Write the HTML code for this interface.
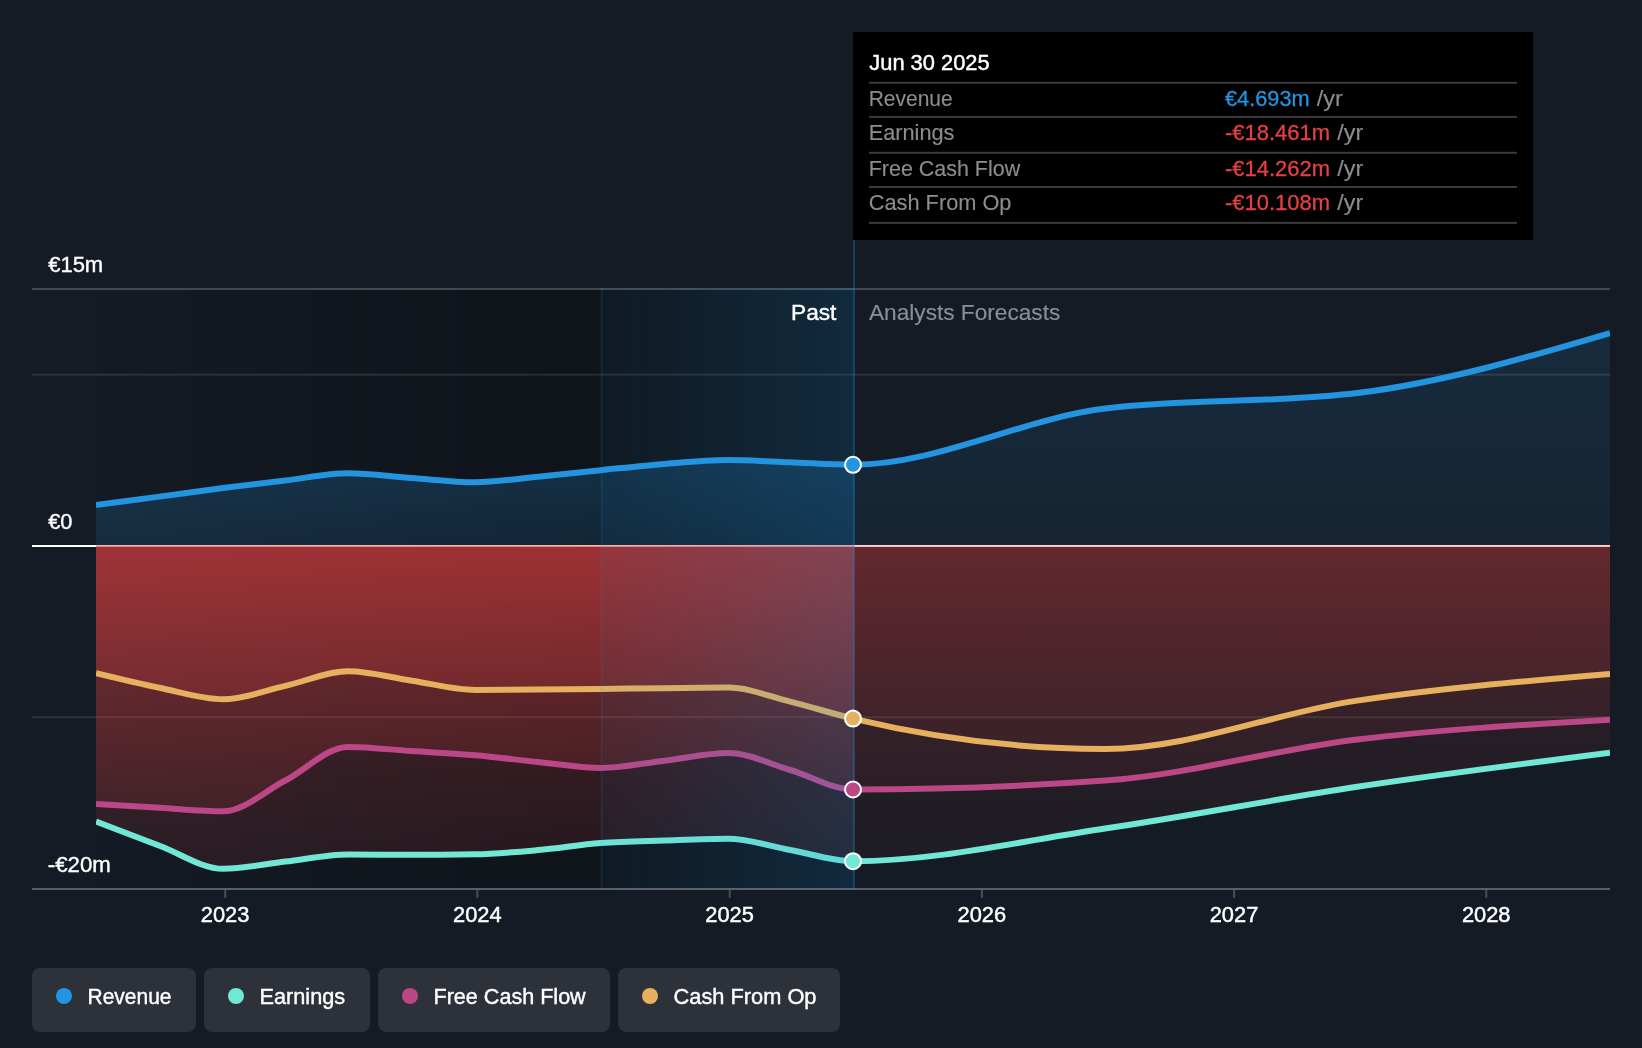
<!DOCTYPE html>
<html><head><meta charset="utf-8"><title>Earnings and Revenue Growth</title>
<style>
html,body{margin:0;padding:0;background:#151b24;}
body{width:1642px;height:1048px;overflow:hidden;position:relative;font-family:"Liberation Sans",sans-serif;}
svg text{font-family:"Liberation Sans",sans-serif;}
</style></head><body>
<svg width="1642" height="1048" viewBox="0 0 1642 1048" style="position:absolute;left:0;top:0;will-change:transform">
<defs>
<linearGradient id="gpast" x1="0" y1="0" x2="1" y2="0"><stop offset="0" stop-color="#000" stop-opacity="0"/><stop offset="1" stop-color="#000" stop-opacity="0.40"/></linearGradient>
<linearGradient id="ghl" x1="0" y1="0" x2="1" y2="0"><stop offset="0" stop-color="#2394df" stop-opacity="0.05"/><stop offset="1" stop-color="#2394df" stop-opacity="0.20"/></linearGradient>
<linearGradient id="gblueP" gradientUnits="userSpaceOnUse" x1="0" y1="460" x2="0" y2="546"><stop offset="0" stop-color="#2394df" stop-opacity="0.22"/><stop offset="1" stop-color="#2394df" stop-opacity="0.14"/></linearGradient>
<linearGradient id="gblueF" gradientUnits="userSpaceOnUse" x1="0" y1="333" x2="0" y2="546"><stop offset="0" stop-color="#2394df" stop-opacity="0.14"/><stop offset="1" stop-color="#2394df" stop-opacity="0.08"/></linearGradient>
<linearGradient id="grcP" gradientUnits="userSpaceOnUse" x1="0" y1="546" x2="0" y2="749"><stop offset="0" stop-color="#e64141" stop-opacity="0.30"/><stop offset="1" stop-color="#e64141" stop-opacity="0.10"/></linearGradient>
<linearGradient id="grcF" gradientUnits="userSpaceOnUse" x1="0" y1="546" x2="0" y2="749"><stop offset="0" stop-color="#e64141" stop-opacity="0.145"/><stop offset="1" stop-color="#e64141" stop-opacity="0.04"/></linearGradient>
<linearGradient id="grfP" gradientUnits="userSpaceOnUse" x1="0" y1="546" x2="0" y2="811"><stop offset="0" stop-color="#e64141" stop-opacity="0.30"/><stop offset="1" stop-color="#e64141" stop-opacity="0.10"/></linearGradient>
<linearGradient id="grfF" gradientUnits="userSpaceOnUse" x1="0" y1="546" x2="0" y2="811"><stop offset="0" stop-color="#e64141" stop-opacity="0.145"/><stop offset="1" stop-color="#e64141" stop-opacity="0.04"/></linearGradient>
<linearGradient id="greP" gradientUnits="userSpaceOnUse" x1="0" y1="546" x2="0" y2="869"><stop offset="0" stop-color="#e64141" stop-opacity="0.30"/><stop offset="1" stop-color="#e64141" stop-opacity="0.10"/></linearGradient>
<linearGradient id="greF" gradientUnits="userSpaceOnUse" x1="0" y1="546" x2="0" y2="869"><stop offset="0" stop-color="#e64141" stop-opacity="0.145"/><stop offset="1" stop-color="#e64141" stop-opacity="0.04"/></linearGradient>
<clipPath id="cpP"><rect x="96" y="0" width="758" height="1048"/></clipPath>
<clipPath id="cpF"><rect x="854" y="0" width="756" height="1048"/></clipPath>
<clipPath id="cpAll"><rect x="96" y="0" width="1514" height="1048"/></clipPath>
</defs>
<rect x="96" y="290" width="758" height="598" fill="url(#gpast)"/>
<rect x="32" y="288" width="1578" height="2" fill="#fff" fill-opacity="0.2"/>
<rect x="32" y="373.7" width="1578" height="2" fill="#fff" fill-opacity="0.1"/>
<rect x="32" y="716.2" width="1578" height="2" fill="#fff" fill-opacity="0.1"/>
<rect x="32" y="545" width="1578" height="2" fill="#fff"/>
<path d="M96.00,821.50C117.17,829.66 138.33,837.82 159.50,845.70C180.70,853.59 201.90,868.80 223.10,868.80C243.83,868.80 264.57,863.97 285.30,861.60C306.23,859.20 327.17,854.50 348.10,854.50C369.30,854.50 390.50,854.80 411.70,854.80C432.87,854.80 454.03,854.63 475.20,854.30C496.17,853.97 517.13,851.99 538.10,850.10C559.03,848.22 579.97,844.62 600.90,843.00C622.10,841.36 643.30,841.12 664.50,840.40C685.67,839.68 706.83,838.70 728.00,838.70C748.73,838.70 769.47,846.27 790.20,850.00C811.13,853.77 832.07,861.20 853.00,861.20C937.03,861.20 1021.07,840.90 1105.10,828.50C1189.13,816.10 1273.17,799.40 1357.20,786.80C1441.47,774.16 1525.73,763.48 1610.00,752.80L1610.00,545.50L96.00,545.50Z" fill="url(#greP)" clip-path="url(#cpP)"/>
<path d="M96.00,821.50C117.17,829.66 138.33,837.82 159.50,845.70C180.70,853.59 201.90,868.80 223.10,868.80C243.83,868.80 264.57,863.97 285.30,861.60C306.23,859.20 327.17,854.50 348.10,854.50C369.30,854.50 390.50,854.80 411.70,854.80C432.87,854.80 454.03,854.63 475.20,854.30C496.17,853.97 517.13,851.99 538.10,850.10C559.03,848.22 579.97,844.62 600.90,843.00C622.10,841.36 643.30,841.12 664.50,840.40C685.67,839.68 706.83,838.70 728.00,838.70C748.73,838.70 769.47,846.27 790.20,850.00C811.13,853.77 832.07,861.20 853.00,861.20C937.03,861.20 1021.07,840.90 1105.10,828.50C1189.13,816.10 1273.17,799.40 1357.20,786.80C1441.47,774.16 1525.73,763.48 1610.00,752.80L1610.00,545.50L96.00,545.50Z" fill="url(#greF)" clip-path="url(#cpF)"/>
<path d="M96.00,803.90C117.17,805.23 138.33,806.57 159.50,807.80C180.70,809.03 201.90,811.30 223.10,811.30C243.83,811.30 264.57,791.18 285.30,780.50C306.23,769.72 327.17,746.90 348.10,746.90C369.30,746.90 390.50,749.72 411.70,751.10C432.87,752.48 454.03,753.37 475.20,755.20C496.17,757.01 517.13,759.88 538.10,762.00C559.03,764.11 579.97,767.90 600.90,767.90C622.10,767.90 643.30,763.19 664.50,760.70C685.67,758.22 706.83,753.00 728.00,753.00C748.73,753.00 769.47,763.95 790.20,770.00C811.13,776.11 832.07,789.50 853.00,789.50C937.03,789.50 1021.07,786.53 1105.10,780.60C1189.13,774.67 1273.17,749.63 1357.20,739.50C1441.47,729.34 1525.73,724.57 1610.00,719.80L1610.00,545.50L96.00,545.50Z" fill="url(#grfP)" clip-path="url(#cpP)"/>
<path d="M96.00,803.90C117.17,805.23 138.33,806.57 159.50,807.80C180.70,809.03 201.90,811.30 223.10,811.30C243.83,811.30 264.57,791.18 285.30,780.50C306.23,769.72 327.17,746.90 348.10,746.90C369.30,746.90 390.50,749.72 411.70,751.10C432.87,752.48 454.03,753.37 475.20,755.20C496.17,757.01 517.13,759.88 538.10,762.00C559.03,764.11 579.97,767.90 600.90,767.90C622.10,767.90 643.30,763.19 664.50,760.70C685.67,758.22 706.83,753.00 728.00,753.00C748.73,753.00 769.47,763.95 790.20,770.00C811.13,776.11 832.07,789.50 853.00,789.50C937.03,789.50 1021.07,786.53 1105.10,780.60C1189.13,774.67 1273.17,749.63 1357.20,739.50C1441.47,729.34 1525.73,724.57 1610.00,719.80L1610.00,545.50L96.00,545.50Z" fill="url(#grfF)" clip-path="url(#cpF)"/>
<path d="M96.00,673.20C117.17,678.33 138.33,683.45 159.50,687.80C180.70,692.15 201.90,699.30 223.10,699.30C243.83,699.30 264.57,690.56 285.30,685.90C306.23,681.20 327.17,671.20 348.10,671.20C369.30,671.20 390.50,677.58 411.70,680.70C432.87,683.81 454.03,689.90 475.20,689.90C496.17,689.90 517.13,689.77 538.10,689.60C559.03,689.43 579.97,689.13 600.90,688.90C622.10,688.67 643.30,688.42 664.50,688.20C685.67,687.98 706.83,687.60 728.00,687.60C748.73,687.60 769.47,696.46 790.20,701.60C811.13,706.79 832.07,713.56 853.00,718.60C937.03,738.83 1021.07,749.00 1105.10,749.00C1189.13,749.00 1273.17,713.09 1357.20,700.60C1441.47,688.07 1525.73,681.04 1610.00,674.00L1610.00,545.50L96.00,545.50Z" fill="url(#grcP)" clip-path="url(#cpP)"/>
<path d="M96.00,673.20C117.17,678.33 138.33,683.45 159.50,687.80C180.70,692.15 201.90,699.30 223.10,699.30C243.83,699.30 264.57,690.56 285.30,685.90C306.23,681.20 327.17,671.20 348.10,671.20C369.30,671.20 390.50,677.58 411.70,680.70C432.87,683.81 454.03,689.90 475.20,689.90C496.17,689.90 517.13,689.77 538.10,689.60C559.03,689.43 579.97,689.13 600.90,688.90C622.10,688.67 643.30,688.42 664.50,688.20C685.67,687.98 706.83,687.60 728.00,687.60C748.73,687.60 769.47,696.46 790.20,701.60C811.13,706.79 832.07,713.56 853.00,718.60C937.03,738.83 1021.07,749.00 1105.10,749.00C1189.13,749.00 1273.17,713.09 1357.20,700.60C1441.47,688.07 1525.73,681.04 1610.00,674.00L1610.00,545.50L96.00,545.50Z" fill="url(#grcF)" clip-path="url(#cpF)"/>
<path d="M96.00,505.10C117.17,502.27 138.33,499.45 159.50,496.60C180.70,493.75 201.90,490.71 223.10,488.00C243.83,485.35 264.57,482.94 285.30,480.50C306.23,478.04 327.17,473.30 348.10,473.30C369.30,473.30 390.50,476.57 411.70,478.05C432.87,479.53 454.03,482.20 475.20,482.20C496.17,482.20 517.13,478.80 538.10,476.80C559.03,474.80 579.97,472.34 600.90,470.20C622.10,468.04 643.30,465.58 664.50,463.90C685.67,462.22 706.83,460.10 728.00,460.10C748.73,460.10 769.47,461.52 790.20,462.30C811.13,463.09 832.07,464.80 853.00,464.80C937.03,464.80 1021.07,418.93 1105.10,408.60C1189.13,398.27 1273.17,403.43 1357.20,393.10C1441.47,382.74 1525.73,357.87 1610.00,333.00L1610.00,545.00L96.00,545.00Z" fill="url(#gblueP)" clip-path="url(#cpP)"/>
<path d="M96.00,505.10C117.17,502.27 138.33,499.45 159.50,496.60C180.70,493.75 201.90,490.71 223.10,488.00C243.83,485.35 264.57,482.94 285.30,480.50C306.23,478.04 327.17,473.30 348.10,473.30C369.30,473.30 390.50,476.57 411.70,478.05C432.87,479.53 454.03,482.20 475.20,482.20C496.17,482.20 517.13,478.80 538.10,476.80C559.03,474.80 579.97,472.34 600.90,470.20C622.10,468.04 643.30,465.58 664.50,463.90C685.67,462.22 706.83,460.10 728.00,460.10C748.73,460.10 769.47,461.52 790.20,462.30C811.13,463.09 832.07,464.80 853.00,464.80C937.03,464.80 1021.07,418.93 1105.10,408.60C1189.13,398.27 1273.17,403.43 1357.20,393.10C1441.47,382.74 1525.73,357.87 1610.00,333.00L1610.00,545.00L96.00,545.00Z" fill="url(#gblueF)" clip-path="url(#cpF)"/>
<rect x="32" y="888" width="1578" height="2" fill="#5a5f67"/>
<rect x="224.2" y="890" width="2" height="8" fill="#484d56"/>
<rect x="476.4" y="890" width="2" height="8" fill="#484d56"/>
<rect x="728.7" y="890" width="2" height="8" fill="#484d56"/>
<rect x="980.9" y="890" width="2" height="8" fill="#484d56"/>
<rect x="1233.1" y="890" width="2" height="8" fill="#484d56"/>
<rect x="1485.3" y="890" width="2" height="8" fill="#484d56"/>
<path d="M96.00,821.50C117.17,829.66 138.33,837.82 159.50,845.70C180.70,853.59 201.90,868.80 223.10,868.80C243.83,868.80 264.57,863.97 285.30,861.60C306.23,859.20 327.17,854.50 348.10,854.50C369.30,854.50 390.50,854.80 411.70,854.80C432.87,854.80 454.03,854.63 475.20,854.30C496.17,853.97 517.13,851.99 538.10,850.10C559.03,848.22 579.97,844.62 600.90,843.00C622.10,841.36 643.30,841.12 664.50,840.40C685.67,839.68 706.83,838.70 728.00,838.70C748.73,838.70 769.47,846.27 790.20,850.00C811.13,853.77 832.07,861.20 853.00,861.20C937.03,861.20 1021.07,840.90 1105.10,828.50C1189.13,816.10 1273.17,799.40 1357.20,786.80C1441.47,774.16 1525.73,763.48 1610.00,752.80" fill="none" stroke="#71e7d6" stroke-width="6" stroke-linejoin="round" clip-path="url(#cpAll)"/>
<path d="M96.00,803.90C117.17,805.23 138.33,806.57 159.50,807.80C180.70,809.03 201.90,811.30 223.10,811.30C243.83,811.30 264.57,791.18 285.30,780.50C306.23,769.72 327.17,746.90 348.10,746.90C369.30,746.90 390.50,749.72 411.70,751.10C432.87,752.48 454.03,753.37 475.20,755.20C496.17,757.01 517.13,759.88 538.10,762.00C559.03,764.11 579.97,767.90 600.90,767.90C622.10,767.90 643.30,763.19 664.50,760.70C685.67,758.22 706.83,753.00 728.00,753.00C748.73,753.00 769.47,763.95 790.20,770.00C811.13,776.11 832.07,789.50 853.00,789.50C937.03,789.50 1021.07,786.53 1105.10,780.60C1189.13,774.67 1273.17,749.63 1357.20,739.50C1441.47,729.34 1525.73,724.57 1610.00,719.80" fill="none" stroke="#bb4787" stroke-width="6" stroke-linejoin="round" clip-path="url(#cpAll)"/>
<path d="M96.00,673.20C117.17,678.33 138.33,683.45 159.50,687.80C180.70,692.15 201.90,699.30 223.10,699.30C243.83,699.30 264.57,690.56 285.30,685.90C306.23,681.20 327.17,671.20 348.10,671.20C369.30,671.20 390.50,677.58 411.70,680.70C432.87,683.81 454.03,689.90 475.20,689.90C496.17,689.90 517.13,689.77 538.10,689.60C559.03,689.43 579.97,689.13 600.90,688.90C622.10,688.67 643.30,688.42 664.50,688.20C685.67,687.98 706.83,687.60 728.00,687.60C748.73,687.60 769.47,696.46 790.20,701.60C811.13,706.79 832.07,713.56 853.00,718.60C937.03,738.83 1021.07,749.00 1105.10,749.00C1189.13,749.00 1273.17,713.09 1357.20,700.60C1441.47,688.07 1525.73,681.04 1610.00,674.00" fill="none" stroke="#e6b05e" stroke-width="6" stroke-linejoin="round" clip-path="url(#cpAll)"/>
<path d="M96.00,505.10C117.17,502.27 138.33,499.45 159.50,496.60C180.70,493.75 201.90,490.71 223.10,488.00C243.83,485.35 264.57,482.94 285.30,480.50C306.23,478.04 327.17,473.30 348.10,473.30C369.30,473.30 390.50,476.57 411.70,478.05C432.87,479.53 454.03,482.20 475.20,482.20C496.17,482.20 517.13,478.80 538.10,476.80C559.03,474.80 579.97,472.34 600.90,470.20C622.10,468.04 643.30,465.58 664.50,463.90C685.67,462.22 706.83,460.10 728.00,460.10C748.73,460.10 769.47,461.52 790.20,462.30C811.13,463.09 832.07,464.80 853.00,464.80C937.03,464.80 1021.07,418.93 1105.10,408.60C1189.13,398.27 1273.17,403.43 1357.20,393.10C1441.47,382.74 1525.73,357.87 1610.00,333.00" fill="none" stroke="#2394df" stroke-width="6" stroke-linejoin="round" clip-path="url(#cpAll)"/>
<rect x="601" y="288" width="253" height="601" fill="url(#ghl)"/>
<rect x="600.6" y="288" width="1.8" height="601" fill="#2394df" fill-opacity="0.13"/>
<rect x="853" y="240" width="2" height="649" fill="#2394df" fill-opacity="0.29"/>
<circle cx="853" cy="464.8" r="8" fill="#2394df" stroke="#fff" stroke-width="2"/>
<circle cx="853" cy="718.6" r="8" fill="#e6b05e" stroke="#fff" stroke-width="2"/>
<circle cx="853" cy="789.5" r="8" fill="#bb4787" stroke="#fff" stroke-width="2"/>
<circle cx="853" cy="861.2" r="8" fill="#71e7d6" stroke="#fff" stroke-width="2"/>
<text x="48.2" y="272" fill="#fff" font-size="21.6" text-anchor="start" textLength="55" lengthAdjust="spacingAndGlyphs" stroke="#fff" stroke-width="0.38">€15m</text>
<text x="48.2" y="528.8" fill="#fff" font-size="21.6" text-anchor="start" textLength="24.2" lengthAdjust="spacingAndGlyphs" stroke="#fff" stroke-width="0.38">€0</text>
<text x="47.8" y="871.8" fill="#fff" font-size="21.6" text-anchor="start" textLength="63" lengthAdjust="spacingAndGlyphs" stroke="#fff" stroke-width="0.38">-€20m</text>
<text x="225.1" y="921.5" fill="#fff" font-size="21.6" text-anchor="middle" textLength="48.6" lengthAdjust="spacingAndGlyphs" stroke="#fff" stroke-width="0.45">2023</text>
<text x="477.3" y="921.5" fill="#fff" font-size="21.6" text-anchor="middle" textLength="48.6" lengthAdjust="spacingAndGlyphs" stroke="#fff" stroke-width="0.45">2024</text>
<text x="729.6" y="921.5" fill="#fff" font-size="21.6" text-anchor="middle" textLength="48.6" lengthAdjust="spacingAndGlyphs" stroke="#fff" stroke-width="0.45">2025</text>
<text x="981.8" y="921.5" fill="#fff" font-size="21.6" text-anchor="middle" textLength="48.6" lengthAdjust="spacingAndGlyphs" stroke="#fff" stroke-width="0.45">2026</text>
<text x="1234.0" y="921.5" fill="#fff" font-size="21.6" text-anchor="middle" textLength="48.6" lengthAdjust="spacingAndGlyphs" stroke="#fff" stroke-width="0.45">2027</text>
<text x="1486.2" y="921.5" fill="#fff" font-size="21.6" text-anchor="middle" textLength="48.6" lengthAdjust="spacingAndGlyphs" stroke="#fff" stroke-width="0.45">2028</text>
<text x="836.4" y="319.8" fill="#fff" font-size="21.6" text-anchor="end" textLength="45.4" lengthAdjust="spacingAndGlyphs" stroke="#fff" stroke-width="0.38">Past</text>
<text x="869" y="319.8" fill="#8b8e93" font-size="21.6" text-anchor="start" textLength="191.3" lengthAdjust="spacingAndGlyphs" stroke="#8b8e93" stroke-width="0.15">Analysts Forecasts</text>
<rect x="853" y="32" width="680" height="208" fill="#000"/>
<rect x="869" y="81.8" width="648" height="2" fill="#3b3b3b"/>
<rect x="869" y="115.9" width="648" height="2" fill="#3b3b3b"/>
<rect x="869" y="151.8" width="648" height="2" fill="#3b3b3b"/>
<rect x="869" y="186" width="648" height="2" fill="#3b3b3b"/>
<rect x="869" y="221.9" width="648" height="2" fill="#3b3b3b"/>
<text x="869.3" y="69.6" fill="#fff" font-size="21.6" text-anchor="start" textLength="120.3" lengthAdjust="spacingAndGlyphs" stroke="#fff" stroke-width="0.45">Jun 30 2025</text>
<text x="868.7" y="106" fill="#8c8c8c" font-size="21.6" text-anchor="start" textLength="84" lengthAdjust="spacingAndGlyphs" stroke="#8c8c8c" stroke-width="0.15">Revenue</text>
<text x="1225" y="106" fill="#2394df" font-size="21.6" text-anchor="start" textLength="84.6" lengthAdjust="spacingAndGlyphs" stroke="#2394df" stroke-width="0.3">€4.693m</text>
<text x="1316.8" y="106" fill="#8c8c8c" font-size="21.6" text-anchor="start" textLength="26" lengthAdjust="spacingAndGlyphs" stroke="#8c8c8c" stroke-width="0.15">/yr</text>
<text x="868.7" y="140" fill="#8c8c8c" font-size="21.6" text-anchor="start" textLength="85.8" lengthAdjust="spacingAndGlyphs" stroke="#8c8c8c" stroke-width="0.15">Earnings</text>
<text x="1225" y="140" fill="#e64141" font-size="21.6" text-anchor="start" textLength="105" lengthAdjust="spacingAndGlyphs" stroke="#e64141" stroke-width="0.3">-€18.461m</text>
<text x="1337.2" y="140" fill="#8c8c8c" font-size="21.6" text-anchor="start" textLength="26" lengthAdjust="spacingAndGlyphs" stroke="#8c8c8c" stroke-width="0.15">/yr</text>
<text x="868.7" y="175.8" fill="#8c8c8c" font-size="21.6" text-anchor="start" textLength="151.5" lengthAdjust="spacingAndGlyphs" stroke="#8c8c8c" stroke-width="0.15">Free Cash Flow</text>
<text x="1225" y="175.8" fill="#e64141" font-size="21.6" text-anchor="start" textLength="105" lengthAdjust="spacingAndGlyphs" stroke="#e64141" stroke-width="0.3">-€14.262m</text>
<text x="1337.2" y="175.8" fill="#8c8c8c" font-size="21.6" text-anchor="start" textLength="26" lengthAdjust="spacingAndGlyphs" stroke="#8c8c8c" stroke-width="0.15">/yr</text>
<text x="868.7" y="209.6" fill="#8c8c8c" font-size="21.6" text-anchor="start" textLength="142.8" lengthAdjust="spacingAndGlyphs" stroke="#8c8c8c" stroke-width="0.15">Cash From Op</text>
<text x="1225" y="209.6" fill="#e64141" font-size="21.6" text-anchor="start" textLength="105" lengthAdjust="spacingAndGlyphs" stroke="#e64141" stroke-width="0.3">-€10.108m</text>
<text x="1337.2" y="209.6" fill="#8c8c8c" font-size="21.6" text-anchor="start" textLength="26" lengthAdjust="spacingAndGlyphs" stroke="#8c8c8c" stroke-width="0.15">/yr</text>
<rect x="32" y="968" width="164" height="64" rx="8" fill="#2c313a"/>
<circle cx="64" cy="996" r="8" fill="#2394df"/>
<text x="87.5" y="1003.7" fill="#fff" font-size="21.6" text-anchor="start" textLength="84" lengthAdjust="spacingAndGlyphs" stroke="#fff" stroke-width="0.4">Revenue</text>
<rect x="204" y="968" width="166" height="64" rx="8" fill="#2c313a"/>
<circle cx="236" cy="996" r="8" fill="#71e7d6"/>
<text x="259.5" y="1003.7" fill="#fff" font-size="21.6" text-anchor="start" textLength="85.6" lengthAdjust="spacingAndGlyphs" stroke="#fff" stroke-width="0.4">Earnings</text>
<rect x="378" y="968" width="232" height="64" rx="8" fill="#2c313a"/>
<circle cx="410" cy="996" r="8" fill="#bb4787"/>
<text x="433.5" y="1003.7" fill="#fff" font-size="21.6" text-anchor="start" textLength="152.2" lengthAdjust="spacingAndGlyphs" stroke="#fff" stroke-width="0.4">Free Cash Flow</text>
<rect x="618" y="968" width="222" height="64" rx="8" fill="#2c313a"/>
<circle cx="650" cy="996" r="8" fill="#e6b05e"/>
<text x="673.5" y="1003.7" fill="#fff" font-size="21.6" text-anchor="start" textLength="143" lengthAdjust="spacingAndGlyphs" stroke="#fff" stroke-width="0.4">Cash From Op</text>
</svg>
</body></html>
